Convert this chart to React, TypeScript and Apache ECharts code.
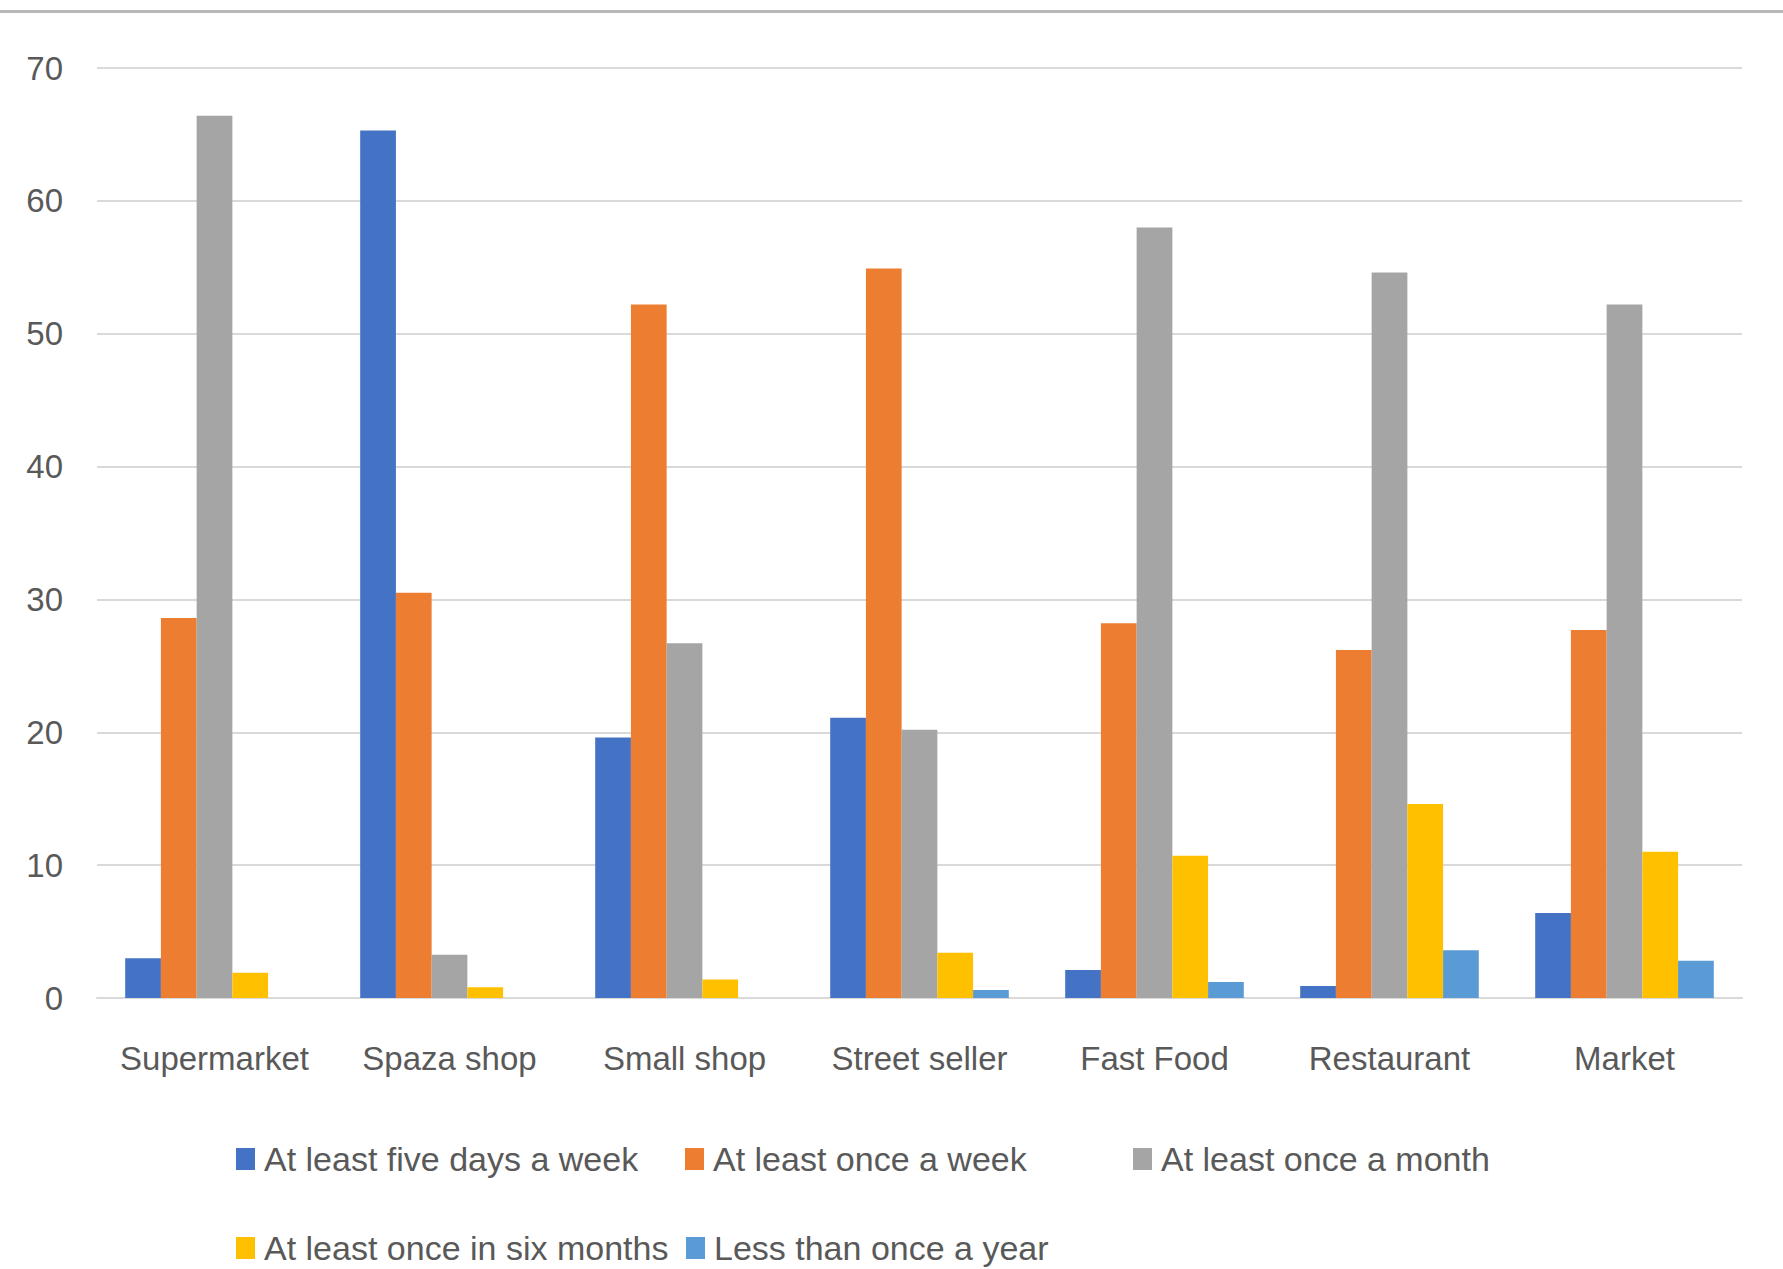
import React, { useEffect, useRef } from "react";
import * as echarts from "echarts";

const categories = ["Supermarket", "Spaza shop", "Small shop", "Street seller", "Fast Food", "Restaurant", "Market"];
const seriesNames = [
  "At least five days a week",
  "At least once a week",
  "At least once a month",
  "At least once in six months",
  "Less than once a year",
];
const fiveDaysWeek = [3.0, 65.3, 19.6, 21.1, 2.1, 0.9, 6.4];
const onceWeek = [28.6, 30.5, 52.2, 54.9, 28.2, 26.2, 27.7];
const onceMonth = [66.4, 3.25, 26.7, 20.2, 58.0, 54.6, 52.2];
const onceSixMonths = [1.9, 0.8, 1.4, 3.4, 10.7, 14.6, 11.0];
const lessOnceYear = [0, 0, 0, 0.6, 1.2, 3.6, 2.8];
const yTicks = { min: 0, max: 70, interval: 10 };

const colors = ["#4472C4", "#ED7D31", "#A5A5A5", "#FFC000", "#5B9BD5"];
const seriesData = [fiveDaysWeek, onceWeek, onceMonth, onceSixMonths, lessOnceYear];
const legendPos = [
  { left: 236, top: 1142 },
  { left: 685, top: 1142 },
  { left: 1133, top: 1142 },
  { left: 236, top: 1231 },
  { left: 686, top: 1231 },
];

const FONT = "'Liberation Sans', Arial, sans-serif";
const TEXT = "#595959";

export default function App() {
  const ref = useRef<HTMLDivElement>(null);
  useEffect(() => {
    document.body.style.margin = "0";
    const chart = echarts.init(ref.current!, undefined, { renderer: "svg" });
    chart.setOption({
      animation: false,
      backgroundColor: "#ffffff",
      textStyle: { fontFamily: FONT },
      grid: { left: 97, right: 41, top: 68, bottom: 271, containLabel: false },
      legend: seriesNames.map((n, i) => ({
        data: [n],
        left: legendPos[i].left,
        top: legendPos[i].top,
        icon: "rect",
        itemWidth: 19,
        itemHeight: 22,
        padding: 0,
        selectedMode: false,
        textStyle: { color: TEXT, fontSize: 34, fontFamily: FONT, padding: [0, 0, 0, 4] },
      })),
      xAxis: {
        type: "category",
        data: categories,
        axisTick: { show: false },
        axisLine: { show: true, lineStyle: { color: "#d9d9d9", width: 2 } },
        axisLabel: { color: TEXT, fontSize: 33, margin: 44, interval: 0, fontFamily: FONT },
      },
      yAxis: {
        type: "value",
        min: yTicks.min,
        max: yTicks.max,
        interval: yTicks.interval,
        axisLine: { show: false },
        axisTick: { show: false },
        axisLabel: { color: TEXT, fontSize: 33, margin: 34, fontFamily: FONT },
        splitLine: { lineStyle: { color: "#d9d9d9", width: 2 } },
      },
      series: seriesNames.map((n, i) => ({
        name: n,
        type: "bar",
        data: seriesData[i],
        barGap: "0%",
        barCategoryGap: "24%",
        itemStyle: { color: colors[i] },
      })),
      graphic: [
        { type: "rect", left: 0, top: 10, shape: { width: 1783, height: 3 }, style: { fill: "#b8b8b8" } },
      ],
    });
    return () => chart.dispose();
  }, []);
  return <div ref={ref} style={{ width: 1783, height: 1269 }} />;
}
